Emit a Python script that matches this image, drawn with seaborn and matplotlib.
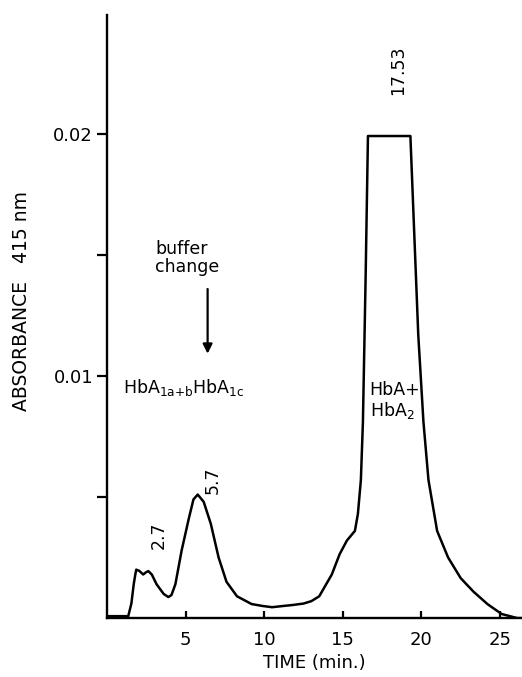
import matplotlib
matplotlib.use("Agg")
import matplotlib.pyplot as plt
import seaborn as sns
import pandas as pd

# Data
time_min = [0, 1.35, 1.55, 1.7, 1.8, 1.86, 2.05, 2.3, 2.5, 2.63, 2.85, 3.15,
            3.6, 3.9, 4.1, 4.35, 4.75, 5.2, 5.5, 5.77, 6.15, 6.6, 7.1, 7.6,
            8.27, 9.2, 9.9, 10.5, 11.2, 11.8, 12.5, 13.0, 13.5, 14.3, 14.8,
            15.26, 15.77, 15.96, 16.15, 16.28, 16.45, 16.6, 19.3, 19.8, 20.13,
            20.45, 21.0, 21.7, 22.5, 23.3, 24.2, 25.1, 26.1, 26.4]
absorbance = [0.00008, 0.00008, 0.0006, 0.0014, 0.0018, 0.0020, 0.00195,
              0.0018, 0.0019, 0.00194, 0.0018, 0.0014, 0.0010, 0.00087,
              0.00095, 0.0014, 0.0028, 0.0041, 0.0049, 0.0051, 0.0048,
              0.0039, 0.0025, 0.0015, 0.0009, 0.00058, 0.0005, 0.00045,
              0.0005, 0.00054, 0.0006, 0.0007, 0.0009, 0.0018, 0.00264,
              0.0032, 0.0036, 0.0043, 0.0057, 0.0081, 0.0140, 0.0199, 0.0199,
              0.0117, 0.0081, 0.0057, 0.0036, 0.0025, 0.00165, 0.0011,
              0.00058, 0.00017, 0.0, 0.0]

x_ticks = [5, 10, 15, 20, 25]
y_ticks = [0.005, 0.01, 0.015, 0.02]
y_tick_labels = ["", "0.01", "", "0.02"]

peak_labels = ["2.7", "5.7", "17.53"]
peak_label_pos = [(3.3, 0.0034), (6.7, 0.0057), (18.5, 0.0226)]

df = pd.DataFrame({"time": time_min, "abs": absorbance})

sns.set_style("ticks")
plt.rcParams["font.family"] = ["DejaVu Sans"]
plt.rcParams["text.color"] = "black"
plt.rcParams["axes.labelcolor"] = "black"

fig = plt.figure(figsize=(5.22, 6.77), dpi=100)
ax = fig.add_axes([0.205, 0.087, 0.795, 0.891])

sns.lineplot(data=df, x="time", y="abs", ax=ax, color="black", linewidth=1.8,
             sort=False, estimator=None)

ax.set_xlim(0, 26.4)
ax.set_ylim(0, 0.0249)
sns.despine(ax=ax)
for s in ["left", "bottom"]:
    ax.spines[s].set_linewidth(1.7)
    ax.spines[s].set_color("black")

ax.set_xticks(x_ticks)
ax.set_xticklabels([str(t) for t in x_ticks])
ax.set_yticks(y_ticks)
ax.set_yticklabels(y_tick_labels)
ax.tick_params(axis="x", direction="in", length=5, width=1.6, pad=9,
               labelsize=13, colors="black")
ax.tick_params(axis="y", direction="out", length=7, width=1.6, pad=3,
               labelsize=13, colors="black")

ax.set_xlabel("TIME (min.)", fontsize=13, labelpad=4)
ax.set_ylabel("")
fig.text(0.042, 0.555, "ABSORBANCE   415 nm", rotation=90, fontsize=13.5,
         ha="center", va="center")

for lab, (px, py) in zip(peak_labels, peak_label_pos):
    ax.text(px, py, lab, rotation=90, fontsize=12.5, ha="center", va="center")

ax.text(3.05, 0.0156, "buffer\nchange", fontsize=12.5, ha="left", va="top",
        linespacing=1.0)
ax.annotate("", xy=(6.4, 0.0108), xytext=(6.4, 0.0137),
            arrowprops=dict(arrowstyle="-|>", color="black", lw=1.6,
                            mutation_scale=14))
ax.text(1.0, 0.0093, r"HbA$_{\mathregular{1a{+}b}}$HbA$_{\mathregular{1c}}$",
        fontsize=12.5, ha="left", va="baseline")
ax.text(16.7, 0.0098, "HbA+\nHbA$_\\mathregular{2}$", fontsize=12.5,
        ha="left", va="top", linespacing=1.1)

fig.savefig("out.png", dpi=100)
